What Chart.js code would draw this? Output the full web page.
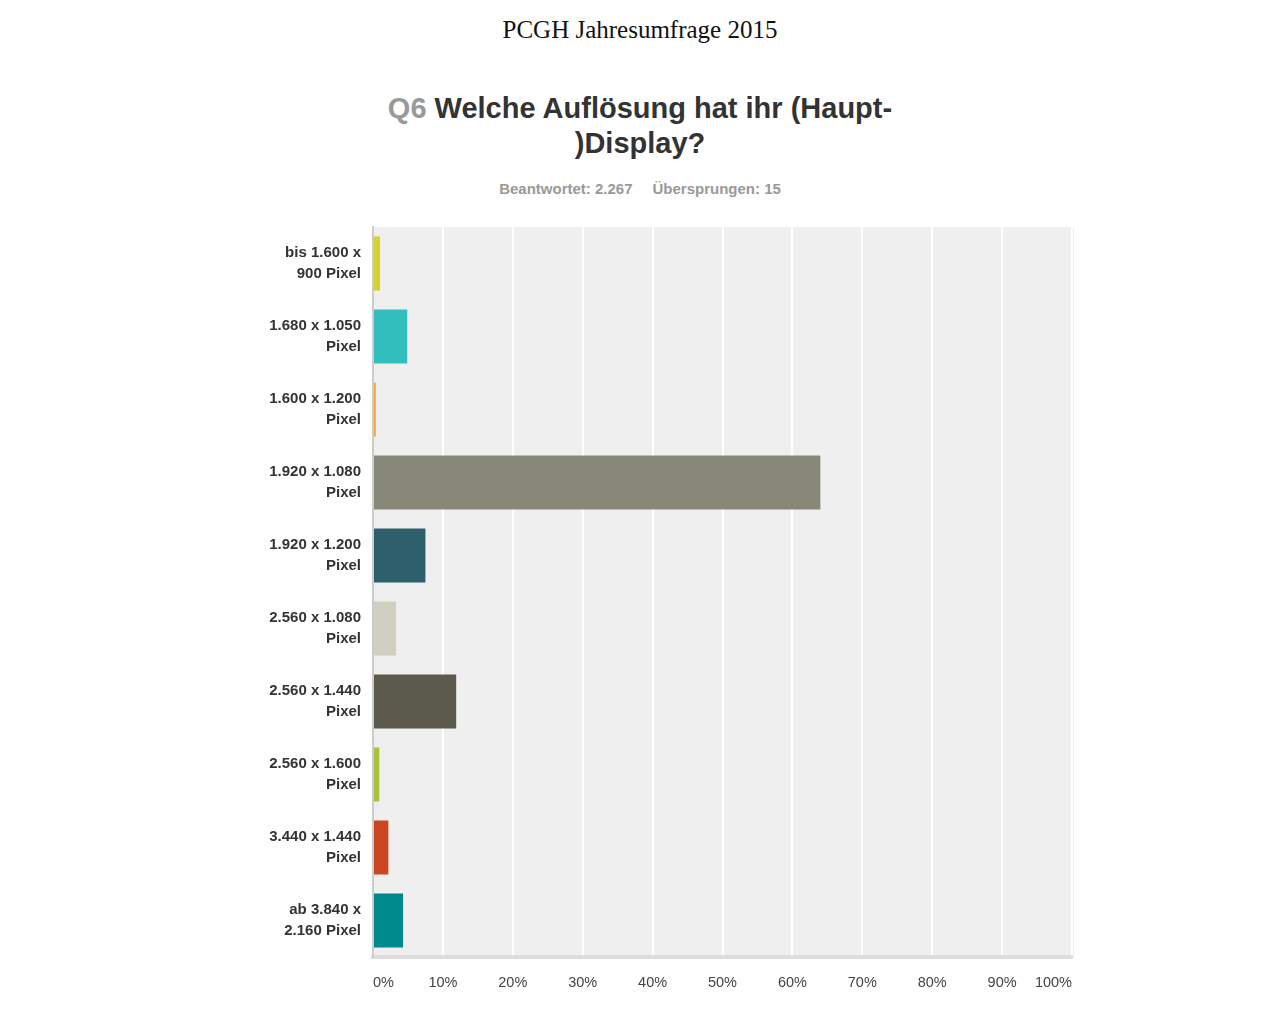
<!DOCTYPE html>
<html>
<head>
<meta charset="utf-8">
<script src="https://cdn.jsdelivr.net/npm/chart.js@4.4.0/dist/chart.umd.min.js"></script>
<style>
	body { margin: 0; background: #fff; width: 1280px; height: 1018px; position: relative; overflow: hidden; }
	#top { position: absolute; left: 0; width: 1280px; top: 16px; text-align: center; font-family: "Liberation Serif", "Times New Roman", serif; font-size: 25px; color: #111; }
	#q { position: absolute; left: 0; width: 1280px; top: 91px; text-align: center; font-family: "Liberation Sans", Arial, sans-serif; font-weight: bold; font-size: 29px; line-height: 35px; color: #333; }
	#q span { color: #999; }
	#sub { position: absolute; left: 0; width: 1280px; top: 180px; text-align: center; font-family: "Liberation Sans", Arial, sans-serif; font-weight: bold; font-size: 15px; color: #999; }
	#sub b { margin: 0 10px; }
	#wrap { position: absolute; left: 250px; top: 194px; width: 840px; height: 816px; }
</style>
</head>
<body>
<div id="top">PCGH Jahresumfrage 2015</div>
<div id="q"><span>Q6</span> Welche Auflösung hat ihr (Haupt-<br>)Display?</div>
<div id="sub"><b>Beantwortet: 2.267</b><b>Übersprungen: 15</b></div>
<div id="wrap"><canvas id="chart"></canvas></div>
<script>
var categories = [
	["bis 1.600 x", "900 Pixel"],
	["1.680 x 1.050", "Pixel"],
	["1.600 x 1.200", "Pixel"],
	["1.920 x 1.080", "Pixel"],
	["1.920 x 1.200", "Pixel"],
	["2.560 x 1.080", "Pixel"],
	["2.560 x 1.440", "Pixel"],
	["2.560 x 1.600", "Pixel"],
	["3.440 x 1.440", "Pixel"],
	["ab 3.840 x", "2.160 Pixel"]
];
var percents = [1.0, 4.9, 0.4, 64.0, 7.5, 3.3, 11.9, 0.9, 2.2, 4.3];
var xTicks = [0, 10, 20, 30, 40, 50, 60, 70, 80, 90, 100];

var barColors = ["#d3d32a", "#33bebe", "#f2a832", "#888878", "#2e5f6c", "#d1cfc0", "#5b5a4b", "#a9c23d", "#cc4622", "#00898a"];

// grey plot background behind the bars
var plotBg = {
	id: 'plotBg',
	beforeDraw: function(chart) {
		var a = chart.chartArea;
		var ctx = chart.ctx;
		ctx.save();
		ctx.fillStyle = "#efefef";
		ctx.fillRect(a.left, a.top, a.right - a.left + 2, a.bottom - a.top);
		ctx.restore();
	}
};

var ctx = document.getElementById('chart').getContext('2d');
var chart = new Chart(ctx, {
	type: 'bar',
	data: {
		labels: categories,
		datasets: [{
			data: percents,
			backgroundColor: barColors,
			borderWidth: 0,
			categoryPercentage: 1,
			barPercentage: 0.74
		}]
	},
	plugins: [plotBg],
	options: {
		indexAxis: 'y',
		responsive: true,
		maintainAspectRatio: false,
		animation: false,
		layout: { padding: { top: 7, right: 18, bottom: 0, left: 0 } },
		plugins: {
			legend: { display: false },
			tooltip: { enabled: false }
		},
		scales: {
			x: {
				min: 0,
				max: 100,
				afterBuildTicks: function(scale) {
					scale.ticks = xTicks.map(function(v) { return { value: v }; });
				},
				afterFit: function(scale) { scale.height = 53; },
				grid: {
					color: function(c) { return c.index === 0 ? "#cccccc" : "#ffffff"; },
					lineWidth: 2,
					drawTicks: false
				},
				border: { color: "#dddddd", width: 4 },
				ticks: {
					align: 'inner',
					padding: 17,
					color: "#444",
					font: { family: "'Liberation Sans', Arial, sans-serif", size: 14.5 },
					callback: function(v) { return v + "%"; }
				}
			},
			y: {
				afterFit: function(scale) { scale.width = 123; },
				grid: { display: false, drawTicks: false },
				border: { color: "#cccccc", width: 2 },
				ticks: {
					padding: 12,
					color: "#333",
					font: { family: "'Liberation Sans', Arial, sans-serif", size: 15, weight: 'bold', lineHeight: 1.4 }
				}
			}
		}
	}
});
</script>
</body>
</html>
